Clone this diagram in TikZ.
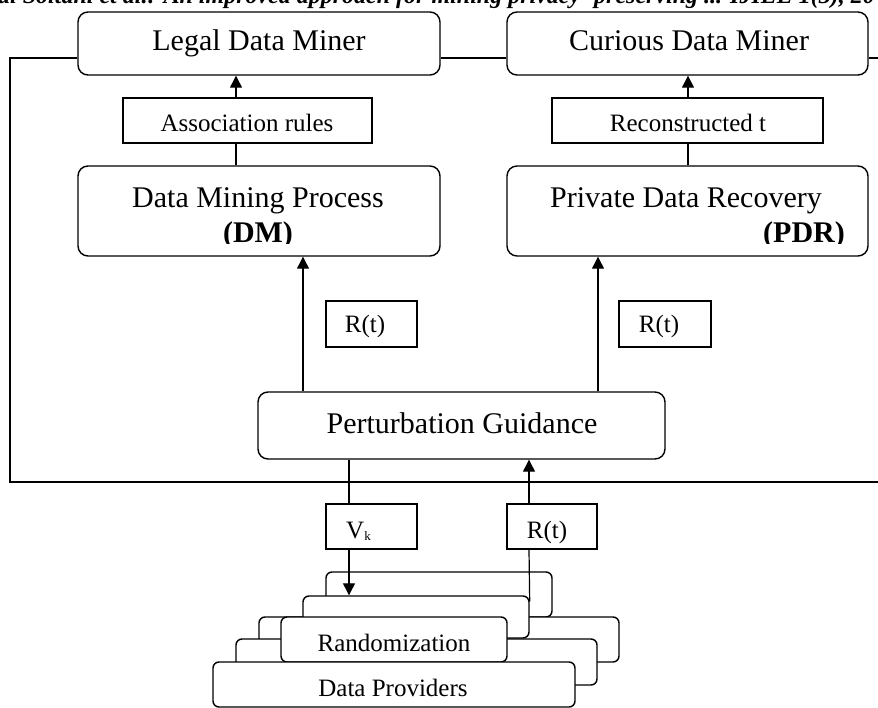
\documentclass[tikz,border=0pt]{standalone}
\usepackage{fontspec}
\setmainfont{Liberation Serif}
\usetikzlibrary{arrows.meta,calc}
\begin{document}
\begin{tikzpicture}[x=1pt,y=-1pt,
  rbox/.style={draw,line width=1.4pt,fill=white,rounded corners=10pt,inner sep=0pt},
  sbox/.style={draw,line width=1.4pt,fill=white,rounded corners=6pt,inner sep=0pt},
  lbox/.style={draw,line width=1.3pt,fill=white,inner sep=0pt},
  conn/.style={line width=1.2pt},
  arr/.style={conn,-{Triangle[length=12pt,width=12pt]}},
  big/.style={font=\fontsize{30}{36}\selectfont,inner sep=0pt},
  small/.style={font=\fontsize{25}{30}\selectfont,inner sep=0pt},
]
\useasboundingbox (0,0) rectangle (878,708);

% header line (cut off at the top, as in the source)
\begin{scope}
\clip (0,0) rectangle (878,708);
\node[anchor=base west,inner sep=0pt,font=\fontsize{24}{28}\selectfont\bfseries\itshape] (hdr) at (-2,4)
  {al Soltani et al.: An improved approach for mining privacy- preserving ... IJIEE 1(3), 20};
\end{scope}

% coordinates of the outer loop and of the vertical connectors
\coordinate (ltop) at (10,58);
\coordinate (lbot) at (10,482);
\coordinate (rtop) at (878,58);
\coordinate (rbot) at (878,482);
\coordinate (ax) at (236,0);
\coordinate (cx) at (688,0);
\coordinate (dx) at (303,0);
\coordinate (px) at (598,0);
\coordinate (vx) at (349,0);
\coordinate (rx) at (529,0);

% main boxes
\node[rbox,minimum width=362pt,minimum height=63pt] (legal) at (259,43.5) {};
\node[big,anchor=base] (legalt) at (259,51) {Legal Data Miner};
\node[rbox,minimum width=361pt,minimum height=63pt] (curious) at (687.5,43.5) {};
\node[big,anchor=base] (curioust) at (689,51) {Curious Data Miner};

\node[lbox,minimum width=249pt,minimum height=45pt] (assoc) at (247.5,120.5) {};
\node[small,anchor=base] (assoct) at (247,132) {Association rules};
\node[lbox,minimum width=271pt,minimum height=45pt] (recon) at (687.5,120.5) {};
\node[small,anchor=base] (recont) at (688,132) {Reconstructed t};

\node[rbox,minimum width=362pt,minimum height=90pt] (dm) at (259,211) {};
\node[rbox,minimum width=361pt,minimum height=90pt] (pdr) at (687.5,211) {};
\node[big,anchor=base] (dmt) at (258,208) {Data Mining Process};
\node[big,anchor=base] (pdrt) at (686,208) {Private Data Recovery};
\begin{scope}
\clip (70,150) rectangle (878,244);
\node[big,anchor=base] (dmb) at (258,243) {\bfseries (DM)};
\node[big,anchor=base] (pdrb) at (804,243) {\bfseries (PDR)};
\end{scope}

\node[lbox,minimum width=91pt,minimum height=46pt] (r1) at (371.5,324) {};
\node[small,anchor=base] (r1t) at (365,333) {R(t)};
\node[lbox,minimum width=92pt,minimum height=46pt] (r2) at (665,324) {};
\node[small,anchor=base] (r2t) at (659,333) {R(t)};

\node[rbox,minimum width=407pt,minimum height=67pt] (pg) at (461.5,425.5) {};
\node[big,anchor=base] (pgt) at (462,433) {Perturbation Guidance};

\node[lbox,minimum width=91pt,minimum height=45pt] (vk) at (371.5,526.5) {};
\node[small,anchor=base west] (vkt) at (346,538) {V\raisebox{-2pt}{\fontsize{13}{13}\selectfont k}};
\node[lbox,minimum width=90pt,minimum height=45pt] (r3) at (552,526.5) {};
\node[small,anchor=base] (r3t) at (547,538) {R(t)};

% stacked boxes (back to front)
\node[sbox,minimum width=226pt,minimum height=45pt] (sA) at (439,594.5) {};
\node[sbox,minimum width=360pt,minimum height=45pt] (sC) at (439,639.5) {};
\node[sbox,minimum width=226pt,minimum height=42pt] (sB) at (416,617) {};
\node[sbox,minimum width=361pt,minimum height=46pt] (sE) at (416.5,662) {};
\node[sbox,minimum width=226pt,minimum height=45pt] (sD) at (394,639.5) {};
\node[small,anchor=base] (sDt) at (394,651) {Randomization};
\node[sbox,minimum width=362pt,minimum height=45pt] (sF) at (394,684.5) {};
\node[small,anchor=base] (sFt) at (393,696) {Data Providers};

% outer loop
\draw[conn] (legal.west |- ltop) -- (ltop) -- (lbot) -- (rbot);
\draw[conn] (legal.east |- ltop) -- (curious.west |- ltop);
\draw[conn] (curious.east |- ltop) -- (rtop);

% connectors
\draw[conn] (ax |- dm.north) -- (ax |- assoc.south);
\draw[arr] (ax |- assoc.north) -- (ax |- legal.south);
\draw[conn] (cx |- pdr.north) -- (cx |- recon.south);
\draw[arr] (cx |- recon.north) -- (cx |- curious.south);
\draw[arr] (dx |- pg.north) -- (dx |- dm.south);
\draw[arr] (px |- pg.north) -- (px |- pdr.south);
\draw[conn] (vx |- pg.south) -- (vx |- vk.north);
\draw[arr] (vx |- vk.south) -- (vx |- sB.north);
\draw[conn] ($(sB.north east)+(0,6)$) -- (rx |- r3.south);
\draw[arr] (rx |- r3.north) -- (rx |- pg.south);
\end{tikzpicture}
\end{document}
